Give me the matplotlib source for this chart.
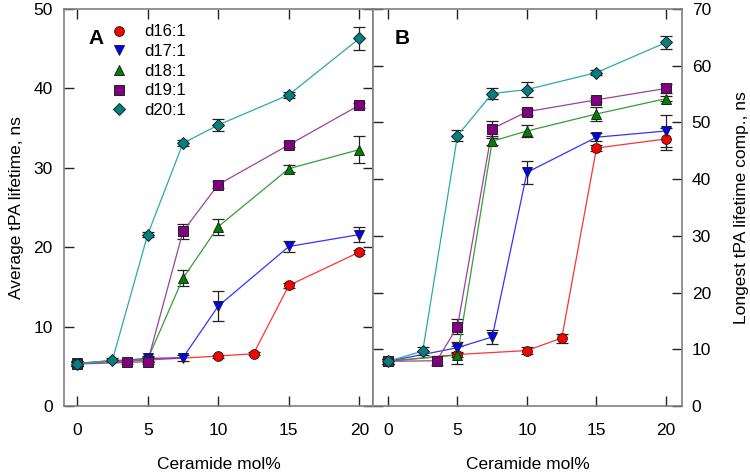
import matplotlib
matplotlib.use("Agg")
import matplotlib.pyplot as plt
from matplotlib.lines import Line2D

plt.rcParams['font.family'] = ['Liberation Sans', 'DejaVu Sans']

series = ["d16:1", "d17:1", "d18:1", "d19:1", "d20:1"]
markers = ["o", "v", "^", "s", "D"]
face_colors = ["#ff0000", "#0000ff", "#008000", "#800080", "#008080"]
line_colors = ["#ff3333", "#3333ff", "#33a033", "#a040a0", "#30a8a8"]

# Panel A: average tPA lifetime
xA = {
    "d16:1": [0, 5, 10, 12.5, 15, 20],
    "d17:1": [0, 5, 7.5, 10, 15, 20],
    "d18:1": [0, 5, 7.5, 10, 15, 20],
    "d19:1": [0, 3.5, 5, 7.5, 10, 15, 20],
    "d20:1": [0, 2.5, 5, 7.5, 10, 15, 20],
}
yA = {
    "d16:1": [5.4, 5.8, 6.3, 6.6, 15.2, 19.4],
    "d17:1": [5.4, 6.0, 6.1, 12.6, 20.1, 21.6],
    "d18:1": [5.4, 5.9, 16.1, 22.6, 29.9, 32.3],
    "d19:1": [5.3, 5.5, 5.6, 22.0, 27.9, 32.9, 37.9],
    "d20:1": [5.3, 5.8, 21.6, 33.1, 35.4, 39.2, 46.3],
}
eA = {
    "d16:1": [0.2, 0.2, 0.2, 0.2, 0.3, 0.3],
    "d17:1": [0.3, 0.3, 0.4, 1.9, 0.7, 0.9],
    "d18:1": [0.3, 0.3, 1.0, 1.0, 0.4, 1.7],
    "d19:1": [0.3, 0.2, 0.3, 0.9, 0.4, 0.3, 0.3],
    "d20:1": [0.3, 0.3, 0.3, 0.4, 0.8, 0.4, 1.4],
}

# Panel B: longest tPA lifetime component
xB = {
    "d16:1": [0, 5, 10, 12.5, 15, 20],
    "d17:1": [0, 5, 7.5, 10, 15, 20],
    "d18:1": [0, 5, 7.5, 10, 15, 20],
    "d19:1": [0, 3.5, 5, 7.5, 10, 15, 20],
    "d20:1": [0, 2.5, 5, 7.5, 10, 15, 20],
}
yB = {
    "d16:1": [7.9, 9.1, 9.8, 12.0, 45.5, 47.1],
    "d17:1": [7.9, 10.3, 12.2, 41.2, 47.4, 48.5],
    "d18:1": [7.9, 9.0, 46.7, 48.5, 51.5, 54.2],
    "d19:1": [7.9, 8.0, 14.0, 48.9, 51.9, 54.0, 56.0],
    "d20:1": [7.9, 9.7, 47.7, 55.1, 55.8, 58.8, 64.1],
}
eB = {
    "d16:1": [0.4, 0.5, 0.6, 0.8, 0.6, 2.0],
    "d17:1": [0.4, 1.0, 1.2, 2.0, 0.7, 2.8],
    "d18:1": [0.4, 1.6, 0.6, 1.0, 1.2, 0.5],
    "d19:1": [0.4, 0.8, 1.3, 1.3, 0.5, 0.4, 0.8],
    "d20:1": [0.4, 0.7, 0.9, 1.0, 1.3, 0.5, 1.2],
}

xticks = [0, 5, 10, 15, 20]

fig = plt.figure(figsize=(7.5, 4.75), dpi=100)
axA = fig.add_axes([0.0853, 0.145, 0.412, 0.836])
axB = fig.add_axes([0.4973, 0.145, 0.412, 0.836])

spine_col = "#808080"
fs = 12.5

def draw(ax, xs, ys, es):
    for i, s in enumerate(series):
        ax.errorbar(xs[s], ys[s], yerr=es[s], fmt="none", ecolor="#222222",
                    elinewidth=0.9, capsize=4, capthick=0.9, zorder=2)
        ax.plot(xs[s], ys[s], color=line_colors[i], lw=0.9, zorder=3)
        ax.plot(xs[s], ys[s], linestyle="none", marker=markers[i],
                markersize=7 if markers[i] != "D" else 6.5,
                markerfacecolor=face_colors[i], markeredgecolor="#222222",
                markeredgewidth=0.7, zorder=4)
    for sp in ax.spines.values():
        sp.set_color(spine_col)
        sp.set_linewidth(1.2)
    ax.set_xticks(xticks)
    ax.tick_params(axis="both", direction="in", length=7, width=1,
                   color="#222222", labelsize=fs, top=True, bottom=True)
    ax.tick_params(axis="x", pad=12)
    ax.set_xlabel("Ceramide mol%", fontsize=fs, labelpad=14)

draw(axA, xA, yA, eA)
axA.set_xlim(-0.93, 20.96)
axA.set_ylim(0, 50)
axA.set_yticks([0, 10, 20, 30, 40, 50])
axA.tick_params(axis="y", left=True, right=True, labelleft=True,
                labelright=False, pad=8)
axA.set_ylabel("Average tPA lifetime, ns", fontsize=fs, labelpad=7)
axA.text(0.08, 0.925, "A", transform=axA.transAxes, fontsize=15,
         fontweight="bold", va="center", ha="left")

handles = [Line2D([0], [0], linestyle="none", marker=markers[i],
                  markersize=7 if markers[i] != "D" else 6.5,
                  markerfacecolor=face_colors[i], markeredgecolor="#222222",
                  markeredgewidth=0.7) for i in range(len(series))]
axA.legend(handles, series, loc="upper left", bbox_to_anchor=(0.131, 0.978),
           frameon=False, fontsize=12, handlelength=1.0, handletextpad=1.0,
           labelspacing=0.28, borderaxespad=0.0)

draw(axB, xB, yB, eB)
axB.set_xlim(-1.08, 21.15)
axB.set_ylim(0, 70)
axB.set_yticks([0, 10, 20, 30, 40, 50, 60, 70])
axB.yaxis.set_label_position("right")
axB.tick_params(axis="y", left=True, right=True, labelleft=False,
                labelright=True, pad=7)
axB.set_ylabel("Longest tPA lifetime comp., ns", fontsize=fs, labelpad=16.5)
axB.text(0.07, 0.925, "B", transform=axB.transAxes, fontsize=15,
         fontweight="bold", va="center", ha="left")

fig.savefig("out.png", dpi=100)
